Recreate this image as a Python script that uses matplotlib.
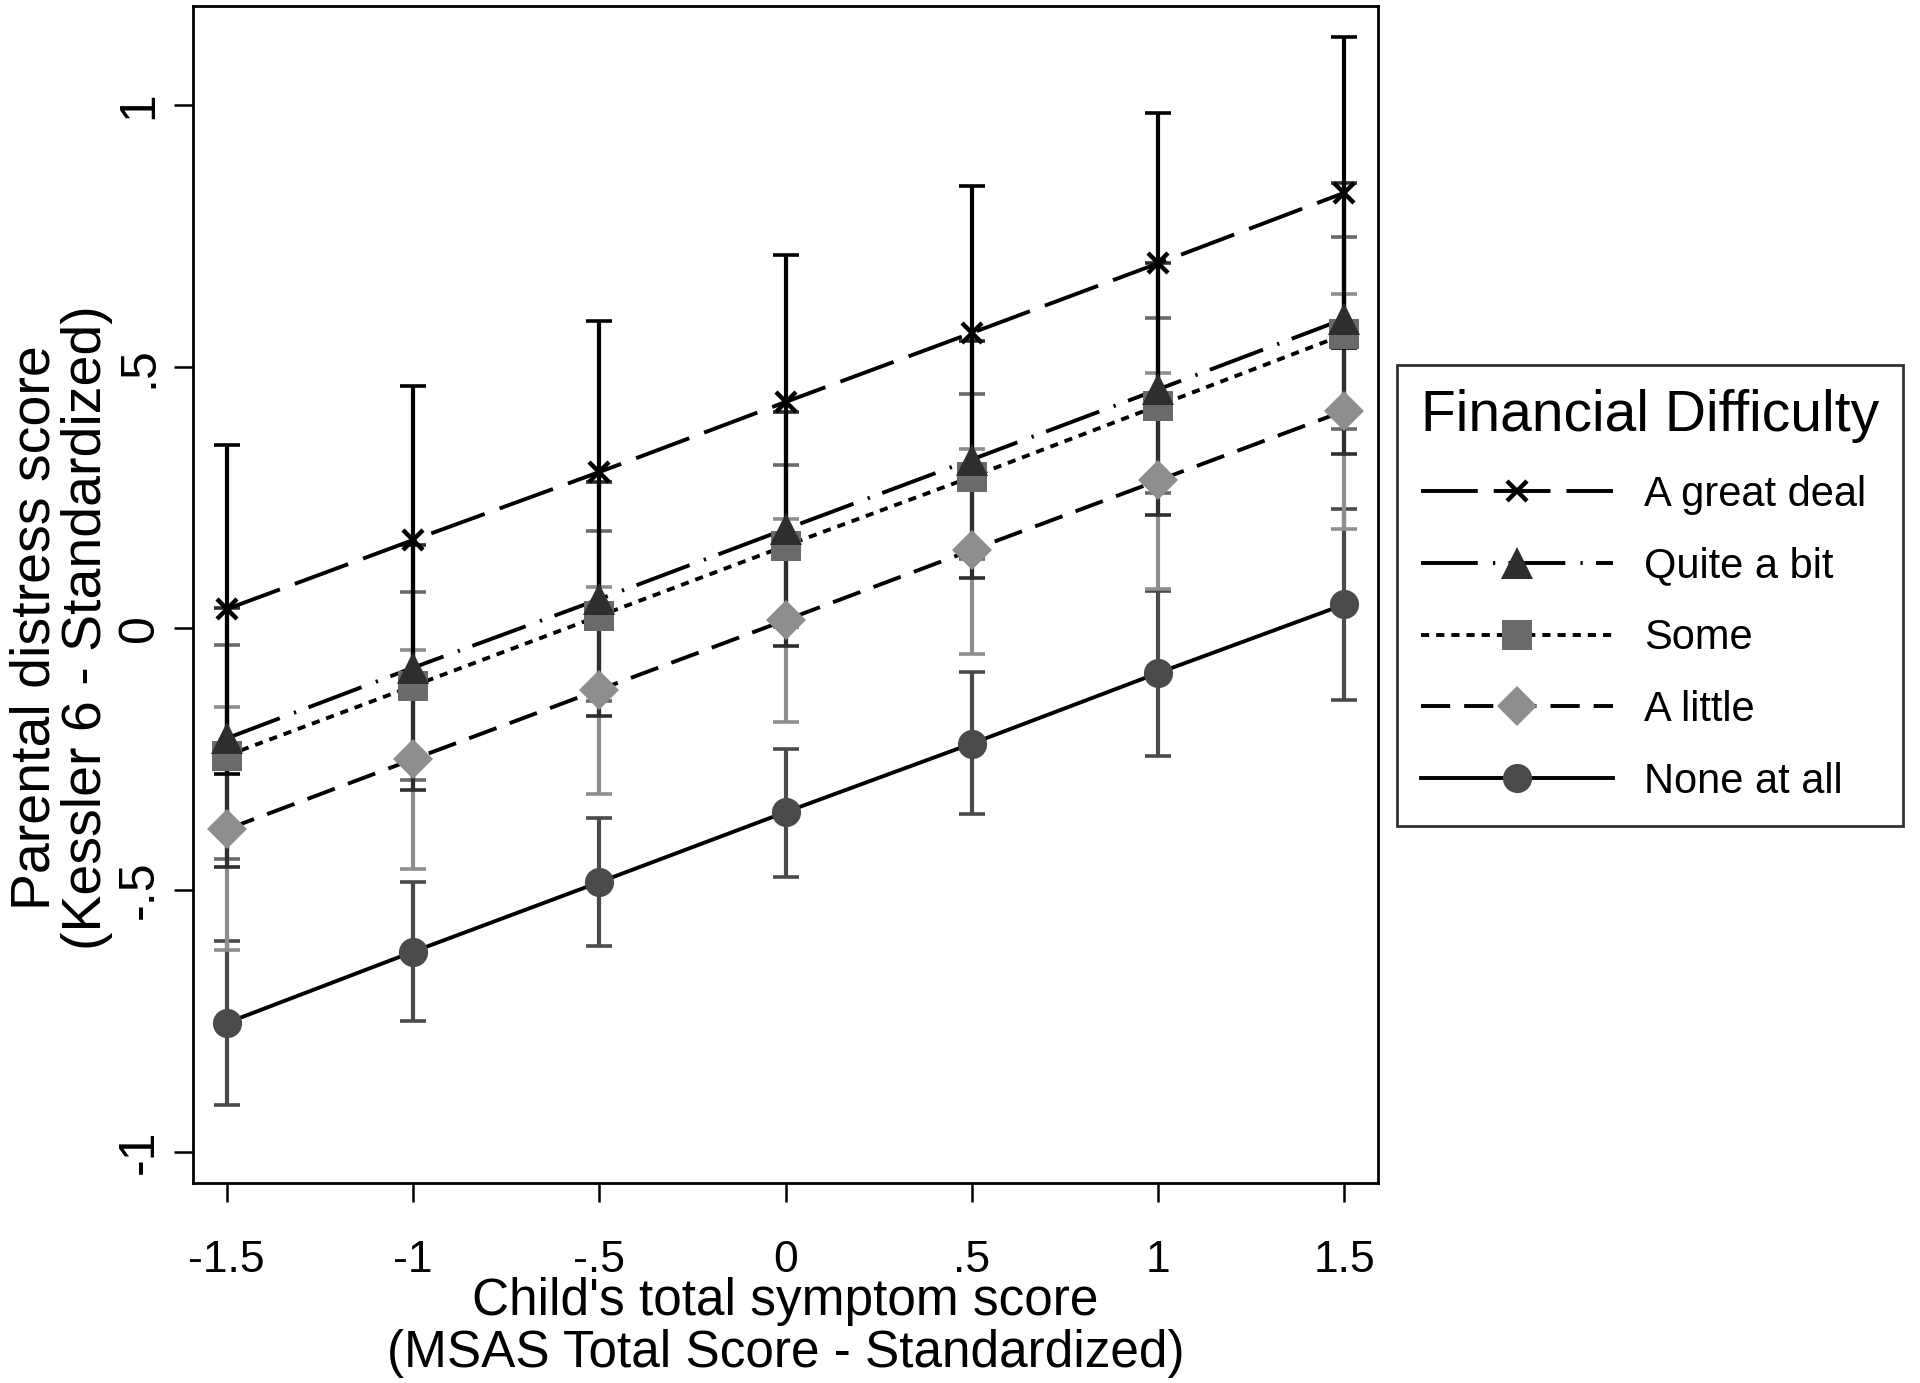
import matplotlib
matplotlib.use("Agg")
import matplotlib.pyplot as plt
from matplotlib.lines import Line2D

plt.rcParams['font.family'] = ['Liberation Sans', 'DejaVu Sans']

# symptom score positions
x = [-1.5, -1, -0.5, 0, 0.5, 1, 1.5]
xtick_labels = ["-1.5", "-1", "-.5", "0", ".5", "1", "1.5"]
yticks = [-1, -0.5, 0, 0.5, 1]
ytick_labels = ["-1", "-.5", "0", ".5", "1"]

# predicted parental distress and 95% CI
great_mean = [0.037, 0.169, 0.299, 0.433, 0.565, 0.698, 0.833]
great_lo = [-0.278, -0.128, 0.012, 0.153, 0.285, 0.410, 0.536]
great_hi = [0.350, 0.464, 0.587, 0.713, 0.846, 0.985, 1.130]

quite_mean = [-0.210, -0.075, 0.056, 0.190, 0.323, 0.457, 0.592]
quite_lo = [-0.456, -0.309, -0.168, -0.033, 0.096, 0.216, 0.333]
quite_hi = [0.040, 0.159, 0.280, 0.413, 0.550, 0.698, 0.851]

some_mean = [-0.243, -0.110, 0.024, 0.158, 0.290, 0.426, 0.562]
some_lo = [-0.440, -0.289, -0.139, 0.003, 0.132, 0.259, 0.382]
some_hi = [-0.032, 0.069, 0.187, 0.313, 0.448, 0.593, 0.748]

little_mean = [-0.384, -0.250, -0.117, 0.016, 0.150, 0.283, 0.416]
little_lo = [-0.614, -0.459, -0.316, -0.178, -0.049, 0.075, 0.190]
little_hi = [-0.151, -0.041, 0.079, 0.209, 0.344, 0.489, 0.640]

none_mean = [-0.754, -0.618, -0.485, -0.351, -0.220, -0.085, 0.046]
none_lo = [-0.910, -0.750, -0.607, -0.475, -0.355, -0.244, -0.137]
none_hi = [-0.597, -0.485, -0.362, -0.230, -0.084, 0.072, 0.229]

LW = 2.8
series = [
    # label, mean, lo, hi, marker, size, color, dash pattern, zorder
    ("None at all", none_mean, none_lo, none_hi, "o", 21, "#4a4a4a", "-", 2),
    ("A little", little_mean, little_lo, little_hi, "D", 20, "#8e8e8e", (0, (7.5, 3.6)), 3),
    ("Some", some_mean, some_lo, some_hi, "s", 21, "#6a6a6a", (0, (2.1, 1.8)), 4),
    ("Quite a bit", quite_mean, quite_lo, quite_hi, "^", 23, "#2e2e2e", (0, (14.6, 3.9, 0.6, 3.4)), 5),
    ("A great deal", great_mean, great_lo, great_hi, "x", 15, "#000000", (0, (14.6, 4.1)), 6),
]

fig = plt.figure(figsize=(19.2, 13.83), dpi=100)
ax = fig.add_axes([0.1006, 0.1446, 0.6171, 0.8511])

handles = {}
for label, mean, lo, hi, mk, ms, col, ls, z in series:
    err = [[m - l for m, l in zip(mean, lo)], [h - m for m, h in zip(mean, hi)]]
    ax.errorbar(x, mean, yerr=err, fmt="none", ecolor=col, elinewidth=3.0,
                capsize=9.5, capthick=2.6, zorder=z)
for label, mean, lo, hi, mk, ms, col, ls, z in series:
    ax.plot(x, mean, color="black", lw=LW, linestyle=ls, zorder=10 + z)
    mew = 3.2 if mk == "x" else 0
    ax.plot(x, mean, linestyle="none", marker=mk, markersize=ms,
            markerfacecolor=col, markeredgecolor=col, markeredgewidth=mew,
            zorder=20 + z)
    handles[label] = Line2D([], [], color="black", lw=LW, linestyle=ls,
                            marker=mk, markersize=ms, markerfacecolor=col,
                            markeredgecolor=col, markeredgewidth=mew)

ax.set_xlim(-1.59, 1.59)
ax.set_ylim(-1.06, 1.19)
ax.set_xticks(x)
ax.set_xticklabels(xtick_labels)
ax.set_yticks(yticks)
ax.set_yticklabels(ytick_labels, rotation=90, va="center")
ax.tick_params(axis="both", length=14, width=1.8)
ax.tick_params(axis="x", labelsize=32, pad=27)
ax.tick_params(axis="y", labelsize=36, pad=8)
for s in ax.spines.values():
    s.set_linewidth(2.0)

ax.set_xlabel("Child's total symptom score\n(MSAS Total Score - Standardized)",
              fontsize=37, linespacing=1.08)
ax.xaxis.set_label_coords(0.5, -0.08)
ax.set_ylabel("Parental distress score\n(Kessler 6 - Standardized)",
              fontsize=40, linespacing=0.98)
ax.yaxis.set_label_coords(-0.068, 0.472)

order = ["A great deal", "Quite a bit", "Some", "A little", "None at all"]
leg = fig.legend([handles[k] for k in order], order, loc="upper left",
                 bbox_to_anchor=(0.7276, 0.736), borderaxespad=0, fontsize=30,
                 title="Financial Difficulty", title_fontsize=41,
                 handlelength=4.6, handletextpad=0.75, labelspacing=0.76,
                 borderpad=0.58, frameon=True, fancybox=False,
                 edgecolor="black", alignment="left")
leg.get_frame().set_linewidth(2.0)

fig.savefig("out.png", dpi=100, facecolor="white")
